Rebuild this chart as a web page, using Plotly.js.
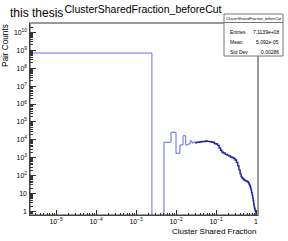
<!DOCTYPE html>
<html>
<head>
<meta charset="utf-8">
<script src="https://cdn.plot.ly/plotly-3.0.1.min.js"></script>
<style>html,body{margin:0;padding:0;background:#fff;}#chart{width:288px;height:241px;}</style>
</head>
<body>
<div id="chart"></div>
<script>
// Histogram bin lower edges (bin width 0.0025 near zero, sampled edges in the dense region)
const binLow = [0, 0.0025, 0.005, 0.0075, 0.01, 0.0125, 0.015, 0.0175, 0.02, 0.0225, 0.025, 0.0275, 0.03,
  0.0325, 0.035, 0.04, 0.045, 0.05, 0.055, 0.06, 0.07, 0.08, 0.09, 0.1, 0.11, 0.12, 0.13, 0.14, 0.15,
  0.17, 0.19, 0.21, 0.23, 0.25, 0.275, 0.3, 0.325, 0.35, 0.375, 0.4, 0.425, 0.45, 0.475, 0.5, 0.525,
  0.55, 0.575, 0.6, 0.625, 0.65, 0.675, 0.7, 0.725, 0.75, 0.775, 0.8, 0.825, 0.85, 0.875, 0.9, 0.925,
  0.95, 0.975, 1.0];
// Pair counts per bin (0 = empty bin)
const counts = [7.1e8, 0, 7400, 26500, 1780, 5200, 17000, 5200, 5900, 8700, 6700, 7600, 6900,
  7500, 7300, 7900, 8150, 8000, 8700, 8200, 7800, 7300, 6300, 5900, 4900, 3500, 2600, 2100, 1850,
  1550, 1350, 1260, 1100, 1030, 910, 750, 550, 350, 210, 125, 85, 74, 65, 57, 54,
  50, 50, 47, 44, 39, 32, 27, 21, 16, 11.5, 8.4, 5.7, 3.9, 2.6, 1.8, 1.4,
  1.07, 1, 0];
const xTitle = "Cluster Shared Fraction";
const yTitle = "Pair Counts";
const histTitle = "ClusterSharedFraction_beforeCut";
const statNames = ["Entries", "Mean", "Std Dev"];
const statValues = ["7.1139e+08", "5.092e-05", "0.00286"];

// log axes cannot show 0: map zero edge / empty bins just below the visible range
const xPlot = binLow.map(v => v > 0 ? v : 1e-8);
const yPlot = counts.map(v => v > 0 ? v : 0.05);
const split = 12;

const font = 'Liberation Sans, Arial, Helvetica, sans-serif';
const traces = [
  {x: xPlot.slice(0, split + 1), y: yPlot.slice(0, split + 1), type: 'scatter', mode: 'lines',
   line: {shape: 'hv', color: '#6a6ae6', width: 1}, hoverinfo: 'skip'},
  {x: xPlot.slice(split), y: yPlot.slice(split), type: 'scatter', mode: 'lines',
   line: {shape: 'hv', color: '#1e1ea6', width: 1.4}, hoverinfo: 'skip'}
];

const L = 30, R = 258, T = 23, B = 215;
const W = R - L, H = B - T;
const px = p => (p - L) / W;
const py = p => (B - p) / H;

const axisCommon = {
  type: 'log', dtick: 1, exponentformat: 'power', showgrid: false, zeroline: false,
  ticks: 'inside', ticklen: 5, tickwidth: 1, tickcolor: '#333',
  minor: {ticks: 'inside', ticklen: 2.5, dtick: 'D1', tickcolor: '#333', tickwidth: 1, showgrid: false},
  showline: true, linecolor: '#444', linewidth: 1,
  tickfont: {family: font, size: 5.5, color: '#000'}
};

const annotations = [
  {text: 'this thesis', xref: 'paper', yref: 'paper', x: px(8), y: py(13), xanchor: 'left', yanchor: 'middle',
   showarrow: false, font: {family: font, size: 12, color: '#000'}},
  {text: yTitle, xref: 'paper', yref: 'paper', x: px(5.5), y: py(45.5), xanchor: 'center', yanchor: 'middle',
   textangle: -90, showarrow: false, font: {family: font, size: 8.2, color: '#000'}},
  {text: xTitle, xref: 'paper', yref: 'paper', x: px(258), y: py(231), xanchor: 'right', yanchor: 'middle',
   showarrow: false, font: {family: font, size: 8, color: '#000'}},
  {text: histTitle, xref: 'paper', yref: 'paper', x: px(253.5), y: py(18.5), xanchor: 'center', yanchor: 'middle',
   showarrow: false, font: {family: font, size: 3.7, color: '#000'}}
];
const statY = [31.7, 41.7, 51.7];
statNames.forEach((n, i) => {
  annotations.push({text: n, xref: 'paper', yref: 'paper', x: px(228), y: py(statY[i]), xanchor: 'left', yanchor: 'middle',
    showarrow: false, font: {family: font, size: 5, color: '#000'}});
  annotations.push({text: statValues[i], xref: 'paper', yref: 'paper', x: px(280.5), y: py(statY[i]), xanchor: 'right', yanchor: 'middle',
    showarrow: false, font: {family: font, size: 5, color: '#000'}});
});

const layout = {
  width: 288, height: 241,
  margin: {l: L, r: 288 - R, t: T, b: 241 - B, pad: 0},
  paper_bgcolor: '#fff', plot_bgcolor: '#fff',
  showlegend: false,
  title: {text: histTitle, x: 143 / 288, xanchor: 'center', y: 1 - 9.5 / 241, yanchor: 'middle',
          font: {family: font, size: 10.5, color: '#000'}},
  xaxis: Object.assign({}, axisCommon, {range: [-5.65, 0.05]}),
  yaxis: Object.assign({}, axisCommon, {range: [-0.2, 10.53], ticklen: 6, ticklabelstandoff: 1}),
  shapes: [
    {type: 'rect', xref: 'paper', yref: 'paper', x0: 0, x1: 1, y0: 0, y1: 1, layer: 'below',
     line: {color: '#999', width: 2}},
    {type: 'rect', xref: 'paper', yref: 'paper', x0: px(224), x1: px(283), y0: py(56), y1: py(14), layer: 'above',
     fillcolor: '#fff', line: {color: '#777', width: 1}},
    {type: 'line', xref: 'paper', yref: 'paper', x0: px(224), x1: px(283), y0: py(22.5), y1: py(22.5), layer: 'above',
     line: {color: '#777', width: 1}}
  ],
  annotations: annotations
};

Plotly.newPlot('chart', traces, layout, {staticPlot: true, displayModeBar: false});
</script>
</body>
</html>
